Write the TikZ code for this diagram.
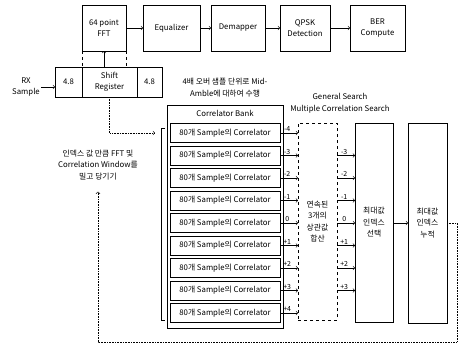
\documentclass[tikz,border=0pt]{standalone}
\usepackage{fontspec}
\setmainfont{Noto Sans CJK KR}
\usetikzlibrary{positioning}
\tikzset{
  blk/.style={draw, inner sep=0pt, outer sep=0pt, align=center},
  lbl/.style={inner sep=1pt, font=\fontsize{7}{7}\selectfont},
}
\begin{document}
\begin{tikzpicture}[x=1pt,y=-1pt,line width=0.6pt,font=\fontsize{7.8}{11.5}\selectfont]
        \useasboundingbox (0,0) rectangle (458,345);
        % top chain
        \node[blk,minimum width=44,minimum height=46] (fft) at (104,28) {64 point\\FFT};
        \node[blk,minimum width=57,minimum height=46] (equ) at (171.5,28) {Equalizer};
        \node[blk,minimum width=54,minimum height=46] (dem) at (238,28) {Demapper};
        \node[blk,minimum width=50,minimum height=46] (qpsk) at (305,28) {QPSK\\Detection};
        \node[blk,minimum width=55,minimum height=46] (ber) at (377.5,28) {BER\\Compute};
        \draw[->] (fft) -- (equ);
        \draw[->] (equ) -- (dem);
        \draw[->] (dem) -- (qpsk);
        \draw[->] (qpsk) -- (ber);
        % shift register
        \node[blk,minimum width=55,minimum height=30] (sr) at (109.5,82) {Shift\\Register};
        \node[blk,minimum width=27,minimum height=30,anchor=east] (bl) at (sr.west) {4.8};
        \node[blk,minimum width=25,minimum height=30,anchor=west] (br) at (sr.east) {4.8};
        \node[align=center,inner sep=1pt] (rx) at (26,87) {RX\\Sample};
        \draw[->] (rx.east) -- (rx.east -| bl.west);
        \draw[dashed] (fft.south west) -- (fft.south west |- sr.north);
        \draw[dashed] (fft.south east) -- (fft.south east |- sr.north);
        \draw[->] (fft.south |- sr.north) -- (fft.south);
        \node[align=center] (over) at (225,87.5) {4배 오버 샘플 단위로 Mid-\\Amble에 대하여 수행};
        \node[align=center] (gs) at (340,103.5) {General Search\\Multiple Correlation Search};
        % correlator bank
        \node[blk,minimum width=116,minimum height=223,anchor=north west] (bank) at (167,105) {};
        \node (bankhd) at (225,113.5) {Correlator Bank};
        \foreach \lab [count=\k] in {-4,-3,-2,-1,0,+1,+2,+3,+4}
            \node[blk,minimum width=110,minimum height=19] (c\k) at (225,110.5+22.5*\k) {80개 Sample의 Correlator};
        \draw (165,128) -| (161,320) -- (165,320);
        \draw[densely dotted,->,shorten >=15pt] (sr.south) |- (c1.west);
        % search blocks
        \node[blk,dashed,minimum width=39,minimum height=197,anchor=north west] (sum) at (298,123) {연속된\\3개의\\상관값\\합산};
        \node[blk,minimum width=38,minimum height=199,anchor=north west] (sel) at (355,123) {최대값\\인덱스\\선택};
        \node[blk,minimum width=39,minimum height=200,anchor=north west] (acc) at (408,123) {최대값\\인덱스\\누적};
        \foreach \lab [count=\k] in {-4,-3,-2,-1,0,+1,+2,+3,+4}
            \draw[->] (c\k.east) -- (c\k.east -| sum.west) node[lbl,pos=0.4,above] {\lab};
        \foreach \lab/\k in {-3/2,-2/3,-1/4,0/5,+1/6,+2/7,+3/8}
            \draw[->] (sum.east |- c\k) -- (sel.west |- c\k) node[lbl,pos=0.4,above] {\lab};
        \draw[->] (sel.east |- c5) -- (acc.west |- c5);
        % feedback
        \node[align=center] (note) at (98,165) {인덱스 값 만큼 FFT 및\\Correlation Window를\\밀고 당기기};
        \coordinate (fbr) at (457,342);
        \draw[densely dotted,->,shorten >=8pt] (acc.east |- c5) -| (fbr) -| (note.south);
\end{tikzpicture}
\end{document}
